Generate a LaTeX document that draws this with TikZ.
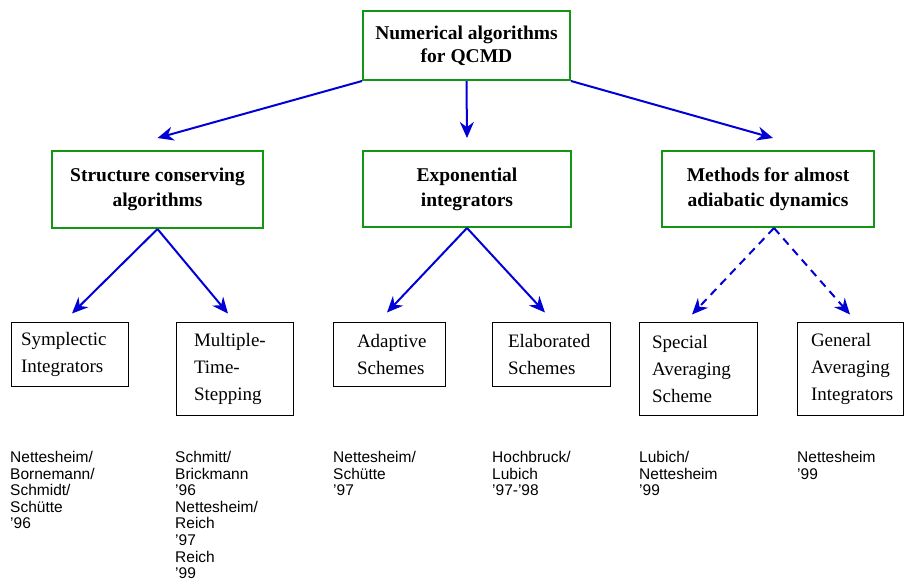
\documentclass[tikz,border=0pt]{standalone}
\usepackage{fontspec}
\setmainfont{Liberation Serif}
\setsansfont{Liberation Sans}
\usetikzlibrary{arrows.meta}
\definecolor{boxgreen}{RGB}{20,150,20}
\definecolor{arrblue}{RGB}{0,0,215}
\begin{document}
\begin{tikzpicture}[x=1pt,y=-1pt,
  greenbox/.style={draw=boxgreen, line width=2pt, fill=white, align=center, inner sep=0pt,
    font=\fontsize{19.5}{25}\selectfont\bfseries},
  blackbox/.style={draw=black, line width=1pt, align=left, inner ysep=0pt,
    font=\fontsize{19}{27}\selectfont},
  citetext/.style={anchor=north west, align=left, inner sep=0pt,
    font=\sffamily\fontsize{15.5}{16.6}\selectfont},
  arr/.style={draw=arrblue, line width=2pt, -{Stealth[length=16pt,width=14pt]}},
  dasharr/.style={arr, dash pattern=on 8pt off 6pt},
  ]
\useasboundingbox (0,0) rectangle (905,587);

% top level
\node[greenbox, minimum width=207pt, minimum height=69pt,
  font=\fontsize{19.5}{23}\selectfont\bfseries] (top) at (466.5,45.5) {Numerical algorithms\\for QCMD};

% second level
\node[greenbox, minimum width=211pt, minimum height=77pt] (struct) at (157.5,189.5) {Structure conserving\\algorithms};
\node[greenbox, minimum width=208pt, minimum height=76pt] (expo) at (467,189) {Exponential\\integrators};
\node[greenbox, minimum width=212pt, minimum height=76pt] (meth) at (768,189) {Methods for almost\\adiabatic dynamics};

% third level
\node[blackbox, minimum width=117pt, minimum height=64pt, inner xsep=10pt, text width=97pt] (sym) at (69.5,354) {Symplectic\\Integrators};
\node[blackbox, minimum width=117pt, minimum height=93pt, inner xsep=18pt, text width=81pt] (mult) at (234.5,368.5) {Multiple-\\Time-\\Stepping};
\node[blackbox, minimum width=112pt, minimum height=64pt, inner xsep=24pt, text width=64pt] (adapt) at (389,354) {Adaptive\\Schemes};
\node[blackbox, minimum width=118pt, minimum height=64pt, inner xsep=16pt, text width=86pt] (elab) at (551,354) {Elaborated\\Schemes};
\node[blackbox, minimum width=118pt, minimum height=93pt, inner xsep=13pt, text width=92pt] (spec) at (698,368.5) {Special\\Averaging\\Scheme};
\node[blackbox, minimum width=106pt, minimum height=93pt, inner xsep=14pt, text width=78pt] (gen) at (850,368.5) {General\\Averaging\\Integrators};

% citations
\node[citetext] (c1) at (10,451) {Nettesheim/\\Bornemann/\\Schmidt/\\Schütte\\'96};
\node[citetext] (c2) at (175,451) {Schmitt/\\Brickmann\\'96\\Nettesheim/\\Reich\\'97\\Reich\\'99};
\node[citetext] (c3) at (333,451) {Nettesheim/\\Schütte\\'97};
\node[citetext] (c4) at (492,451) {Hochbruck/\\Lubich\\'97-'98};
\node[citetext] (c5) at (639,451) {Lubich/\\Nettesheim\\'99};
\node[citetext] (c6) at (797,451) {Nettesheim\\'99};

% arrow end points
\coordinate (tS) at ([yshift=12pt]struct.north);
\coordinate (tE) at ([yshift=12pt]expo.north);
\coordinate (tM) at ([xshift=5pt,yshift=12pt]meth.north);
\coordinate (tSym) at ([xshift=2.5pt,yshift=8pt]sym.north);
\coordinate (tMult) at ([xshift=-6.5pt,yshift=8pt]mult.north);
\coordinate (tAd) at ([xshift=-2pt,yshift=9pt]adapt.north);
\coordinate (tEl) at ([xshift=-6pt,yshift=9pt]elab.north);
\coordinate (tSp) at ([xshift=-6pt,yshift=7pt]spec.north);
\coordinate (tGe) at ([yshift=7pt]gen.north);
\coordinate (mstart) at ([xshift=6pt]meth.south);

% arrows
\draw[arr] (top.south west) -- (tS);
\draw[arr] (top.south) -- (tE);
\draw[arr] (top.south east) -- (tM);

\draw[arr] (struct.south) -- (tSym);
\draw[arr] (struct.south) -- (tMult);
\draw[arr] (expo.south) -- (tAd);
\draw[arr] (expo.south) -- (tEl);

\draw[dasharr] (mstart) -- (tSp);
\draw[dasharr] (mstart) -- (tGe);
\end{tikzpicture}
\end{document}
